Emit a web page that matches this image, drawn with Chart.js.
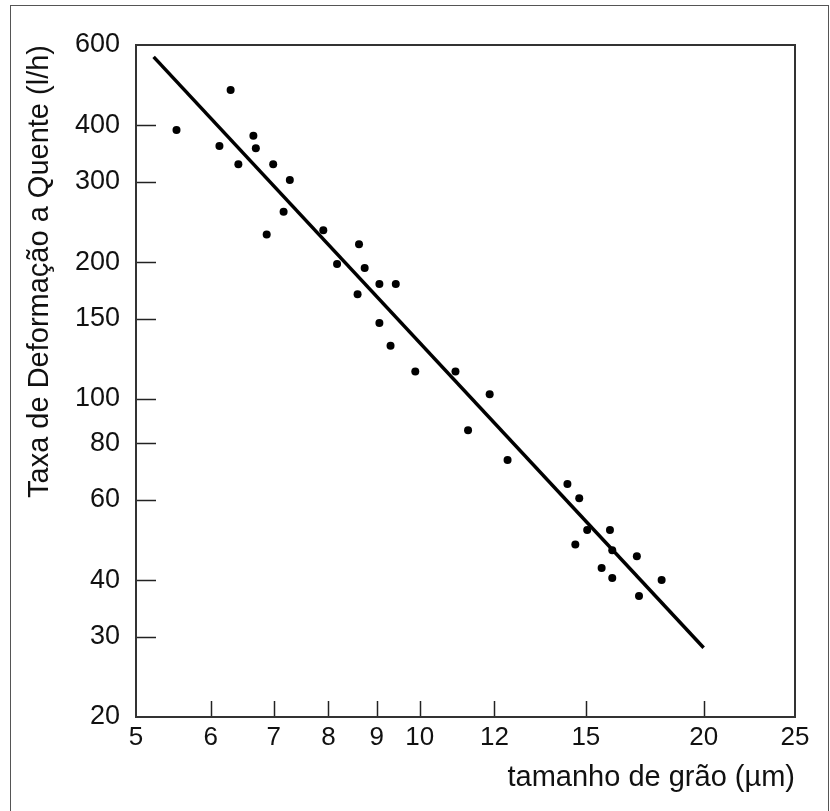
<!DOCTYPE html>
<html>
<head>
<meta charset="utf-8">
<script src="https://cdn.jsdelivr.net/npm/chart.js@4.4.0/dist/chart.umd.min.js"></script>
<style>
    html, body { margin: 0; padding: 0; background: #fff; overflow: hidden; }
    #frame { position: absolute; left: 10px; top: 5px; width: 817px; height: 830px; border: 1px solid #555; }
    #chart { position: absolute; left: 0; top: 0; }
</style>
</head>
<body>
<div id="frame"></div>
<canvas id="chart" width="830" height="811"></canvas>
<script>
// measured points (grain size in um, hot deformation rate in 1/h)
var grainSize = [5.52, 6.30, 6.13, 6.42, 6.66, 6.70, 6.99, 7.28, 7.17, 6.88,
                 7.90, 8.17, 8.62, 8.74, 9.06, 9.43, 8.59, 9.06, 9.31, 9.89,
                 10.91, 11.86, 11.25, 12.39, 14.34, 14.76, 15.05, 15.91, 14.62, 16.0,
                 16.99, 15.59, 16.0, 18.05, 17.08];
var strainRate = [390, 478, 360, 328, 379, 356, 328, 303, 258, 230,
                  235, 198, 219, 194, 179, 179, 170, 147, 131, 115,
                  115, 102.5, 85.4, 73.4, 65, 60.5, 51.5, 51.5, 47.9, 46.5,
                  45.1, 42.5, 40.4, 40.0, 36.9];

// fitted line ends
var fitSize = [5.22, 20];
var fitRate = [565, 28.4];

var xTicks = [5, 6, 7, 8, 9, 10, 12, 15, 20, 25];
var yTicks = [20, 30, 40, 60, 80, 100, 150, 200, 300, 400, 600];

var points = grainSize.map(function (x, i) { return { x: x, y: strainRate[i] }; });
var fitLine = fitSize.map(function (x, i) { return { x: x, y: fitRate[i] }; });

// box round the plot and the inward tick marks
var plotFrame = {
    id: 'plotFrame',
    afterDatasetsDraw: function (chart) {
        var ctx = chart.ctx;
        var a = chart.chartArea;
        var xs = chart.scales.x, ys = chart.scales.y;
        ctx.save();
        ctx.strokeStyle = '#222';
        ctx.lineWidth = 1.5;
        for (var i = 1; i < xTicks.length - 1; i++) {
            var px = Math.round(xs.getPixelForValue(xTicks[i])) + 0.5;
            ctx.beginPath();
            ctx.moveTo(px, a.bottom);
            ctx.lineTo(px, a.bottom - 16);
            ctx.stroke();
        }
        for (var j = 1; j < yTicks.length - 1; j++) {
            var py = Math.round(ys.getPixelForValue(yTicks[j])) + 0.5;
            ctx.beginPath();
            ctx.moveTo(a.left, py);
            ctx.lineTo(a.left + 20, py);
            ctx.stroke();
        }
        ctx.strokeStyle = '#333';
        ctx.lineWidth = 2;
        ctx.strokeRect(a.left, a.top, a.right - a.left, a.bottom - a.top);
        ctx.restore();
    }
};

var ctx = document.getElementById('chart').getContext('2d');
var myChart = new Chart(ctx, {
    type: 'scatter',
    data: {
        datasets: [{
            data: fitLine,
            showLine: true,
            borderColor: '#000',
            borderWidth: 3.5,
            pointRadius: 0
        }, {
            data: points,
            backgroundColor: '#000',
            borderColor: '#000',
            pointRadius: 4,
            borderWidth: 0
        }]
    },
    options: {
        responsive: false,
        animation: false,
        layout: { padding: { left: 0, right: 35, top: 45, bottom: 0 } },
        plugins: {
            legend: { display: false },
            tooltip: { enabled: false }
        },
        scales: {
            x: {
                type: 'logarithmic',
                min: 5,
                max: 25,
                afterBuildTicks: function (scale) {
                    scale.ticks = xTicks.map(function (v) { return { value: v }; });
                },
                afterFit: function (scale) { scale.height = 94; },
                grid: { display: false, drawTicks: false },
                border: { display: false },
                ticks: {
                    autoSkip: false,
                    maxRotation: 0,
                    padding: 5,
                    color: '#111',
                    font: { family: '"Liberation Sans", Arial', size: 26 },
                    callback: function (v) { return v; }
                },
                title: {
                    display: true,
                    text: 'tamanho de grão (µm)',
                    align: 'end',
                    color: '#111',
                    padding: { top: 0, bottom: 16 },
                    font: { family: '"Liberation Sans", Arial', size: 29 }
                }
            },
            y: {
                type: 'logarithmic',
                min: 20,
                max: 600,
                afterBuildTicks: function (scale) {
                    scale.ticks = yTicks.map(function (v) { return { value: v }; });
                },
                afterFit: function (scale) { scale.width = 136; },
                grid: { display: false, drawTicks: false },
                border: { display: false },
                ticks: {
                    autoSkip: false,
                    padding: 16,
                    color: '#111',
                    font: { family: '"Liberation Sans", Arial', size: 27 },
                    callback: function (v) { return v; }
                },
                title: {
                    display: true,
                    text: 'Taxa de Deformação a Quente (l/h)',
                    align: 'end',
                    color: '#111',
                    padding: { top: 23, bottom: 0 },
                    font: { family: '"Liberation Sans", Arial', size: 29 }
                }
            }
        }
    },
    plugins: [plotFrame]
});
</script>
</body>
</html>
